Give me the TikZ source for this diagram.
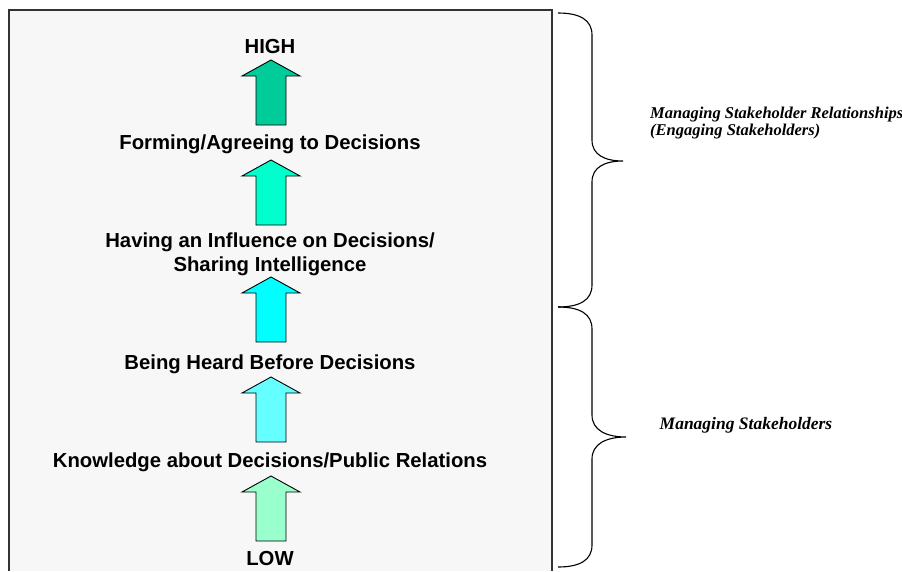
\documentclass[tikz,border=0pt]{standalone}
\usepackage{fontspec}
\setmainfont{Liberation Serif}
\newfontfamily\arialfont{Liberation Sans}
\definecolor{boxbg}{HTML}{F7F7F7}
\definecolor{boxline}{HTML}{333333}
\definecolor{arA}{HTML}{00CC99}
\definecolor{arB}{HTML}{00FFCC}
\definecolor{arC}{HTML}{00FFFF}
\definecolor{arD}{HTML}{66FFFF}
\definecolor{arE}{HTML}{99FFCC}
\tikzset{
  lvl/.style={font=\arialfont\bfseries\fontsize{20.3}{24}\selectfont, inner sep=0pt, align=center},
  side/.style={font=\bfseries\itshape\fontsize{16.5}{16.5}\selectfont, inner sep=0pt, align=left},
  sidebig/.style={font=\bfseries\itshape\fontsize{17.5}{17.5}\selectfont, inner sep=0pt, align=left},
  blockarrow/.style={draw=black, line width=0.9pt, line join=miter},
  bracestyle/.style={draw=black, line width=1.1pt}
}
\newcommand\uparrowblock[3]{%
  \draw[blockarrow, fill=#3] (#1-29,#2+16) -- (#1,#2) -- (#1+29,#2+16) -- (#1+15,#2+16)
    -- (#1+15,#2+65) -- (#1-15,#2+65) -- (#1-15,#2+16) -- cycle;}
\begin{document}
\begin{tikzpicture}[x=1pt,y=-1pt]
\useasboundingbox (0,0) rectangle (902,571);
\fill[white] (0,0) rectangle (902,571);
\fill[boxbg] (9,10) rectangle (552,571);
\draw[boxline, line width=1.3pt] (9,571) -- (9,10) -- (552,10) -- (552,571);
% level texts
\node[lvl] (t0) at (270,47) {HIGH};
\node[lvl] (t1) at (270,144) {Forming/Agreeing to Decisions};
\node[lvl] (t2) at (270,254) {Having an Influence on Decisions/\\Sharing Intelligence};
\node[lvl] (t3) at (270,364) {Being Heard Before Decisions};
\node[lvl] (t4) at (270,462) {Knowledge about Decisions/Public Relations};
\node[lvl] (t5) at (270,559) {LOW};
% block arrows
\uparrowblock{271}{60}{arA}
\uparrowblock{271}{160}{arB}
\uparrowblock{271}{277}{arC}
\uparrowblock{271}{377}{arD}
\uparrowblock{271}{476}{arE}
% braces
\draw[bracestyle] (558,13) .. controls (580,13) and (592,20) .. (592,35) -- (592,140)
  .. controls (592,155) and (605,161) .. (623,161)
  .. controls (605,161) and (592,167) .. (592,182) -- (592,285)
  .. controls (592,300) and (580,307) .. (558,307);
\draw[bracestyle] (558,307) .. controls (580,307) and (592,314) .. (592,329) -- (592,415)
  .. controls (592,430) and (606,437) .. (626,437)
  .. controls (606,437) and (592,444) .. (592,459) -- (592,545)
  .. controls (592,560) and (580,567) .. (558,567);
\node[side, anchor=west] (s1) at (650,123) {Managing Stakeholder Relationships\\(Engaging Stakeholders)};
\node[sidebig] (s2) at (746,425) {Managing Stakeholders};
\end{tikzpicture}
\end{document}
